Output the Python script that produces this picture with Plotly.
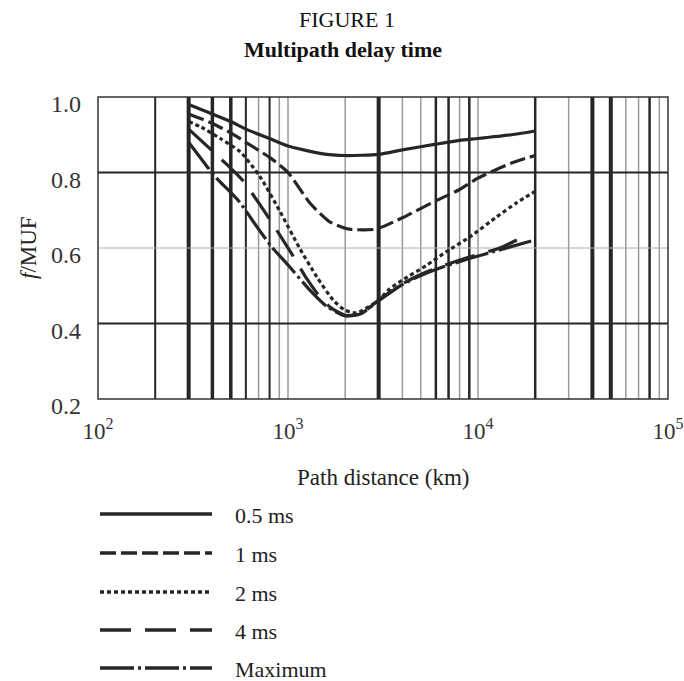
import plotly.graph_objects as go

# ---------------- data ----------------
dist_05 = [300, 400, 500, 600, 800, 1000, 1500, 2000, 3000, 4000, 6000, 8000, 10000, 15000, 20000]
f_05 = [0.98, 0.955, 0.935, 0.915, 0.89, 0.87, 0.85, 0.845, 0.848, 0.86, 0.875, 0.885, 0.89, 0.90, 0.91]

dist_1 = [300, 400, 500, 600, 800, 1000, 1300, 1650, 2100, 2900, 4000, 6000, 8000, 10000, 15000, 20000]
f_1 = [0.955, 0.93, 0.905, 0.88, 0.84, 0.80, 0.72, 0.67, 0.65, 0.65, 0.68, 0.725, 0.755, 0.785, 0.825, 0.845]

dist_2 = [300, 350, 440, 560, 710, 900, 1150, 1420, 1730, 2000, 2300, 3000, 3400, 4000, 5400, 6800, 9100, 12500, 16000, 20000]
f_2 = [0.935, 0.92, 0.89, 0.855, 0.79, 0.70, 0.60, 0.523, 0.462, 0.435, 0.428, 0.462, 0.49, 0.515, 0.555, 0.59, 0.63, 0.682, 0.72, 0.75]

dist_4 = [300, 450, 575, 700, 870, 1060, 1250, 1500, 1700, 2000, 2400, 3000, 3900, 4900, 6300, 9000, 13000, 18000]
f_4 = [0.915, 0.833, 0.78, 0.72, 0.648, 0.58, 0.52, 0.465, 0.44, 0.422, 0.425, 0.462, 0.502, 0.528, 0.55, 0.576, 0.60, 0.634]

dist_max = [300, 380, 420, 545, 700, 830, 1000, 1300, 1600, 2000, 2400, 3000, 3900, 4900, 6300, 9000, 13000, 19500]
f_max = [0.88, 0.812, 0.785, 0.727, 0.65, 0.60, 0.555, 0.489, 0.445, 0.42, 0.425, 0.46, 0.50, 0.525, 0.547, 0.572, 0.595, 0.62]

series_names = ["0.5 ms", "1 ms", "2 ms", "4 ms", "Maximum"]

# grid
grid_x = [200, 300, 400, 500, 600, 700, 800, 900, 1000, 2000, 3000, 4000, 5000, 6000, 7000,
          8000, 9000, 10000, 20000, 30000, 40000, 50000, 60000, 70000, 80000, 90000]
grid_y = [0.4, 0.6, 0.8]
x_tickvals = [100, 1000, 10000, 100000]
x_ticktext = ["10<sup>2</sup>", "10<sup>3</sup>", "10<sup>4</sup>", "10<sup>5</sup>"]
y_tickvals = [0.2, 0.4, 0.6, 0.8, 1.0]
y_ticktext = ["0.2", "0.4", "0.6", "0.8", "1.0"]

# ---------------- styles ----------------
DARK = "#262626"
GRAY = "#9a9a9a"
FONT = "Liberation Serif"
dashes = ["solid", "16px,5px", "4px,3px", "31px,14px", "34px,4px,3px,4px"]
grid_x_style = {
    200: (DARK, 2), 300: (DARK, 4), 400: (DARK, 3.5), 500: (DARK, 3.5), 600: (DARK, 2),
    700: (GRAY, 1.5), 800: (DARK, 2), 900: (GRAY, 1.5), 1000: (GRAY, 1.5), 2000: (GRAY, 1.5),
    3000: (DARK, 4), 4000: (GRAY, 1.5), 5000: (GRAY, 1.5), 6000: (DARK, 2.5), 7000: (DARK, 2.5),
    8000: (GRAY, 1.5), 9000: (DARK, 2.5), 10000: (GRAY, 1.5), 20000: (DARK, 2.5), 30000: (GRAY, 1.5),
    40000: (DARK, 4), 50000: (DARK, 4), 60000: (GRAY, 1.5), 70000: (GRAY, 1.5), 80000: (DARK, 2.5),
    90000: (GRAY, 1.5),
}
grid_y_style = {0.4: (DARK, 2), 0.6: ("#b0b0b0", 1), 0.8: (DARK, 2)}

W, H = 684, 681
ML, MR, MT, MB = 98, 16, 97, 282
TXT = 23

fig = go.Figure()
all_x = [dist_05, dist_1, dist_2, dist_4, dist_max]
all_y = [f_05, f_1, f_2, f_4, f_max]
for xs, ys, name, d in zip(all_x, all_y, series_names, dashes):
    fig.add_trace(go.Scatter(x=xs, y=ys, mode="lines", name=name,
                             line=dict(color=DARK, width=3.2, dash=d, shape="spline", smoothing=0.6),
                             showlegend=False))

shapes = []
for gx in grid_x:
    c, w = grid_x_style[gx]
    shapes.append(dict(type="line", xref="x", yref="y domain", x0=gx, x1=gx, y0=0, y1=1,
                       line=dict(color=c, width=w), layer="below"))
for gy in grid_y:
    c, w = grid_y_style[gy]
    shapes.append(dict(type="line", xref="x domain", yref="y", x0=0, x1=1, y0=gy, y1=gy,
                       line=dict(color=c, width=w), layer="below"))
# plot border
shapes.append(dict(type="rect", xref="x domain", yref="y domain", x0=0, x1=1, y0=0, y1=1,
                   line=dict(color="#333333", width=1.5), layer="above"))

# legend (drawn manually, long samples)
pw = W - ML - MR
ph = H - MT - MB
def px_x(p):
    return (p - ML) / pw
def px_y(p):
    return (H - MB - p) / ph

annotations = []
leg_y = [514, 553, 592, 630, 668]
for name, d, ly in zip(series_names, dashes, leg_y):
    shapes.append(dict(type="line", xref="paper", yref="paper", x0=px_x(100), x1=px_x(212),
                       y0=px_y(ly), y1=px_y(ly), line=dict(color=DARK, width=3.5, dash=d)))
    annotations.append(dict(xref="paper", yref="paper", x=px_x(233), y=px_y(ly + 1), text=name,
                            showarrow=False, xanchor="left", yanchor="middle",
                            font=dict(family=FONT, size=22, color="#222")))

annotations += [
    dict(xref="paper", yref="paper", x=px_x(347), y=px_y(20), text="FIGURE 1", showarrow=False,
         xanchor="center", yanchor="middle", font=dict(family=FONT, size=TXT - 1, color="#111")),
    dict(xref="paper", yref="paper", x=px_x(343), y=px_y(50), text="<b>Multipath delay time</b>",
         showarrow=False, xanchor="center", yanchor="middle", font=dict(family=FONT, size=TXT - 1, color="#111")),
    dict(xref="paper", yref="paper", x=px_x(383), y=px_y(477), text="Path distance (km)", showarrow=False,
         xanchor="center", yanchor="middle", font=dict(family=FONT, size=TXT, color="#222")),
    dict(xref="paper", yref="paper", x=px_x(28), y=px_y(248), text="<i>f</i>/MUF", showarrow=False,
         textangle=-90, xanchor="center", yanchor="middle", font=dict(family=FONT, size=TXT, color="#222")),
]

fig.update_layout(
    width=W, height=H,
    margin=dict(l=ML, r=MR, t=MT, b=MB, pad=0, autoexpand=False),
    paper_bgcolor="white", plot_bgcolor="white",
    shapes=shapes, annotations=annotations,
    xaxis=dict(type="log", range=[2, 5], tickvals=x_tickvals, ticktext=x_ticktext,
               showgrid=False, zeroline=False, showline=False, ticks="", automargin=False,
               tickfont=dict(family=FONT, size=23, color="#333"), ticklabelstandoff=16,
               ticklabeloverflow="allow"),
    yaxis=dict(range=[0.2, 1.0], tickvals=y_tickvals, ticktext=y_ticktext,
               showgrid=False, zeroline=False, showline=False, ticks="", automargin=False,
               tickfont=dict(family=FONT, size=24, color="#333"), ticklabelstandoff=16,
               ticklabelshift=7),
)

fig.write_html("out.html", config={"displayModeBar": False},
               post_script="document.body.style.margin='0';document.body.style.overflow='hidden';")
